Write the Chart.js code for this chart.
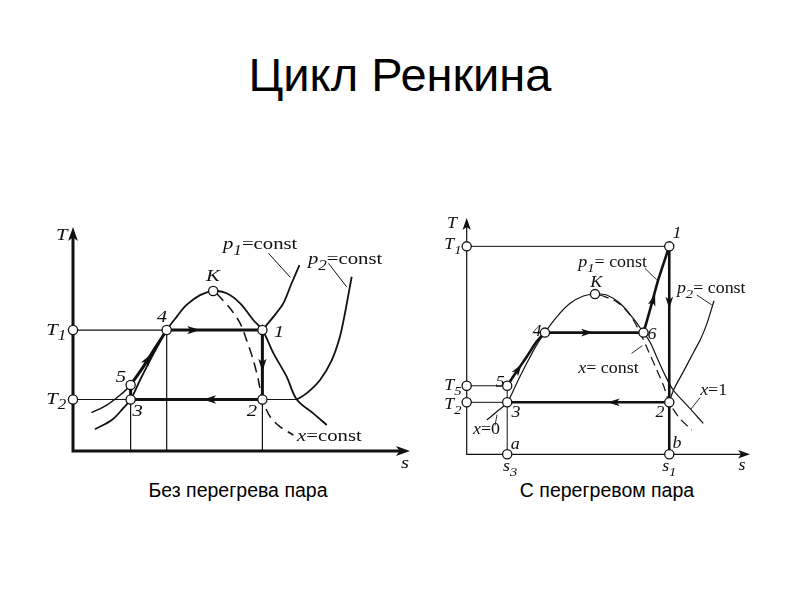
<!DOCTYPE html>
<html>
<head>
<meta charset="utf-8">
<script src="https://cdn.jsdelivr.net/npm/chart.js@4.4.0/dist/chart.umd.min.js"></script>
<style>
  body { margin: 0; width: 800px; height: 600px; background: #fff; position: relative; overflow: hidden;
         font-family: "Liberation Sans", Arial, sans-serif; color: #000; }
  #title { position: absolute; left: 0; top: 47px; width: 800px; text-align: center; font-size: 47px; }
  .cap { position: absolute; top: 479px; width: 300px; text-align: center; font-size: 19.5px; }
  canvas { position: absolute; }
</style>
</head>
<body>
<div id="title">Цикл Ренкина</div>
<div class="cap" style="left:88px">Без перегрева пара</div>
<div class="cap" style="left:457px">С перегревом пара</div>
<canvas id="left" width="400" height="280" style="left:30px;top:200px"></canvas>
<canvas id="right" width="360" height="290" style="left:430px;top:200px"></canvas>
<script>
// ---- left diagram: cycle without superheat (s, T in arbitrary units 0..10) ----
const L_T1 = 5.4, L_T2 = 2.3;
const L_P1 = [5.62, 5.4], L_P2 = [5.62, 2.3], L_P3 = [1.71, 2.3], L_P4 = [2.78, 5.4], L_P5 = [1.71, 2.95], L_K = [4.16, 7.14];
const L_dome = [[0.65,0.97],[1.15,1.38],[1.49,1.91],[1.71,2.3],[1.99,3.17],[2.29,4.06],[2.53,4.73],[2.78,5.4],[3.08,6.0],
  [3.37,6.52],[3.77,6.96],[4.16,7.14],[4.56,7.04],[4.96,6.59],[5.35,5.85],[5.62,5.4],[5.95,4.36],[6.34,3.32],[6.64,2.3],[7.13,1.68],[7.53,1.16]];
const L_p1Liq = [[0.55,1.71],[1.0,2.05],[1.40,2.5],[1.71,2.95],[2.09,3.77],[2.43,4.58],[2.78,5.4]];
const L_p1Vap = [[5.62,5.4],[5.95,6.0],[6.24,6.59],[6.49,7.5],[6.72,8.3]];
const L_p2 = [[6.64,2.3],[6.93,2.57],[7.33,3.17],[7.68,4.06],[7.92,5.10],[8.07,6.15],[8.27,7.78]];
const L_xConst = [[4.26,7.04],[4.66,6.37],[4.96,5.70],[5.15,4.96],[5.35,4.06],[5.50,3.17],[5.62,2.3],[5.85,1.53],[6.14,1.09],[6.54,0.71]];
const L_leaders = [[[5.80,8.83],[6.45,7.75]], [[7.58,8.38],[8.12,7.33]]];

// ---- right diagram: cycle with superheat ----
const R_T1 = 8.8, R_T5 = 2.9, R_T2 = 2.2;
const R_P1 = [7.15, 8.8], R_P2 = [7.15, 2.2], R_P3 = [1.43, 2.2], R_P4 = [2.76, 5.15], R_P5 = [1.43, 2.9], R_P6 = [6.24, 5.15];
const R_K = [4.53, 6.78], R_A = [1.43, 0], R_B = [7.15, 0];
const R_dome = [[0.71,1.45],[1.06,1.8],[1.43,2.2],[1.76,3.0],[2.12,3.85],[2.47,4.63],[2.76,5.15],[3.18,5.82],[3.65,6.39],[4.12,6.70],
  [4.53,6.78],[4.94,6.74],[5.41,6.39],[5.88,5.75],[6.24,5.15],[6.47,4.75],[6.75,4.0],[7.0,3.35],[7.29,2.72],[7.68,2.2],[8.06,1.7],[8.35,1.31]];
const R_p1Liq = [[1.43,2.9],[1.76,3.5],[2.12,4.13],[2.47,4.77],[2.76,5.15]];
const R_p1Vap = [[6.24,5.15],[6.47,6.11],[6.76,7.38],[7.15,8.8]];
const R_p2 = [[7.15,2.2],[7.3,2.72],[7.65,3.5],[8.0,4.3],[8.24,4.84],[8.47,5.5],[8.73,6.5]];
const R_xConst = [[4.71,6.74],[5.29,6.46],[5.76,5.9],[6.1,5.2],[6.4,4.4],[6.7,3.6],[6.95,2.9],[7.15,2.2],[7.5,1.55],[7.94,1.03]];
const R_leaders = [[[6.29,7.87],[6.71,7.38]], [[8.12,6.74],[8.65,6.32]], [[5.82,4.27],[6.2,4.6]],
  [[8.24,2.4],[7.92,1.92]], [[1.0,1.22],[1.07,1.68]]];

// labels: [s, T, main (italic), subscript, tail, align]
const L_labels = [
  [-0.33, 9.6, 'T', '', '', 'center'], [9.85, -0.55, 's', '', '', 'center'],
  [-0.2, L_T1, 'T', '1', '', 'right'], [-0.2, L_T2, 'T', '2', '', 'right'],
  [2.64, 5.95, '4', '', '', 'center'], [6.11, 5.31, '1', '', '', 'center'], [1.42, 3.3, '5', '', '', 'center'],
  [1.92, 1.74, '3', '', '', 'center'], [5.31, 1.74, '2', '', '', 'center'], [4.15, 7.78, 'K', '', '', 'center'],
  [4.45, 9.2, 'p', '1', '=const', 'left'], [6.97, 8.53, 'p', '2', '=const', 'left'], [6.65, 0.63, 'x', '', '=const', 'left']
];
const R_labels = [
  [-0.52, 9.75, 'T', '', '', 'center'], [9.72, -0.5, 's', '', '', 'center'],
  [-0.18, 8.85, 'T', '1', '', 'right'], [-0.18, R_T5, 'T', '5', '', 'right'], [-0.18, 2.1, 'T', '2', '', 'right'],
  [1.53, -0.55, 's', '3', '', 'center'], [7.15, -0.55, 's', '1', '', 'center'],
  [1.71, 0.42, 'a', '', '', 'center'], [7.42, 0.44, 'b', '', '', 'center'],
  [7.42, 9.33, '1', '', '', 'center'], [6.82, 1.75, '2', '', '', 'center'], [1.74, 1.75, '3', '', '', 'center'],
  [2.48, 5.18, '4', '', '', 'center'], [1.18, 3.02, '5', '', '', 'center'], [6.54, 5.05, '6', '', '', 'center'],
  [4.57, 7.25, 'K', '', '', 'center'],
  [3.94, 8.1, 'p', '1', '= const', 'left'], [7.42, 6.99, 'p', '2', '= const', 'left'],
  [3.94, 3.62, 'x', '', '= const', 'left'], [8.24, 2.7, 'x', '', '=1', 'left'], [0.22, 1.03, 'x', '', '=0', 'left']
];

// arrows on the cycle: [from, to, fraction of the way where the tip sits]
const L_arrows = [[L_P4, L_P1, 0.35], [L_P2, L_P3, 0.45], [L_P1, L_P2, 0.6], [L_p1Liq[4], L_p1Liq[5], 0.7]];
const R_arrows = [[R_P4, R_P6, 0.49], [R_P6, R_P1, 0.45], [R_P1, R_P2, 0.4], [R_P2, R_P3, 0.38], [R_p1Liq[1], R_p1Liq[2], 0.5]];

const toXY = arr => arr.map(p => ({ x: p[0], y: p[1] }));

function line(pts, w, opts = {}) {
  return Object.assign({
    data: toXY(pts), showLine: true, borderColor: '#111', borderWidth: w, pointRadius: 0,
    tension: 0, fill: false, clip: false
  }, opts);
}

function arrowHead(ctx, x, y, ang, len, half) {
  ctx.save();
  ctx.translate(x, y);
  ctx.rotate(ang);
  ctx.beginPath();
  ctx.moveTo(0, 0);
  ctx.lineTo(-len, -half);
  ctx.lineTo(-len * 0.75, 0);
  ctx.lineTo(-len, half);
  ctx.closePath();
  ctx.fill();
  ctx.restore();
}

function drawLabel(ctx, x, y, lb, size, sx) {
  const [, , main, sub, tail, align] = lb;
  const fI = `italic ${size}px "Liberation Serif", serif`;
  const fS = `italic ${Math.round(size * 0.8)}px "Liberation Serif", serif`;
  const fN = `${size}px "Liberation Serif", serif`;
  ctx.save();
  ctx.translate(x, y);
  ctx.scale(sx, 1);
  ctx.textBaseline = 'middle';
  ctx.textAlign = 'left';
  ctx.font = fI; const w1 = ctx.measureText(main).width;
  ctx.font = fS; const w2 = sub ? ctx.measureText(sub).width : 0;
  ctx.font = fN; const w3 = tail ? ctx.measureText(tail).width : 0;
  const W = w1 + w2 + w3;
  const x0 = align === 'right' ? -W : align === 'left' ? 0 : -W / 2;
  ctx.font = fI; ctx.fillText(main, x0, 0);
  if (sub) { ctx.font = fS; ctx.fillText(sub, x0 + w1, size * 0.35); }
  if (tail) { ctx.font = fN; ctx.fillText(tail, x0 + w1 + w2, 0); }
  ctx.restore();
}

const deco = {
  id: 'deco',
  beforeDatasetsDraw(chart, args, o) {
    const { ctx, scales: { x, y } } = chart;
    const x0 = x.getPixelForValue(0), y0 = y.getPixelForValue(0);
    const xe = x.getPixelForValue(10), ye = y.getPixelForValue(10);
    ctx.save();
    ctx.strokeStyle = '#111'; ctx.fillStyle = '#111'; ctx.lineWidth = o.axisW;
    ctx.beginPath();
    ctx.moveTo(x0, y0); ctx.lineTo(xe - 8, y0);
    ctx.moveTo(x0, y0 + o.axisW / 2); ctx.lineTo(x0, ye + 8);
    ctx.stroke();
    arrowHead(ctx, xe, y0, 0, o.axHead, o.axHead * 0.35);
    arrowHead(ctx, x0, ye, -Math.PI / 2, o.axHead, o.axHead * 0.35);
    ctx.restore();
  },
  afterDatasetsDraw(chart, args, o) {
    const { ctx, scales: { x, y } } = chart;
    ctx.save();
    ctx.fillStyle = '#111';
    o.arrows.forEach(([a, b, f]) => {
      const ax = x.getPixelForValue(a[0]), ay = y.getPixelForValue(a[1]);
      const bx = x.getPixelForValue(b[0]), by = y.getPixelForValue(b[1]);
      arrowHead(ctx, ax + (bx - ax) * f, ay + (by - ay) * f, Math.atan2(by - ay, bx - ax), o.head, o.head * 0.32);
    });
    o.labels.forEach(lb => {
      drawLabel(ctx, x.getPixelForValue(lb[0]), y.getPixelForValue(lb[1]), lb, o.font, o.sx);
    });
    ctx.restore();
  }
};

function build(id, ds, padding, opts) {
  new Chart(document.getElementById(id), {
    type: 'scatter',
    data: { datasets: ds },
    options: {
      responsive: false, animation: false, devicePixelRatio: 1,
      layout: { padding },
      scales: {
        x: { type: 'linear', min: 0, max: 10, display: false },
        y: { type: 'linear', min: 0, max: 10, display: false }
      },
      plugins: { legend: { display: false }, tooltip: { enabled: false }, deco: opts }
    },
    plugins: [deco]
  });
}

const circ = pts => ({
  data: toXY(pts), showLine: false, pointRadius: 4.6, pointBackgroundColor: '#fff',
  pointBorderColor: '#111', pointBorderWidth: 1.3, clip: false, order: -1
});

// left chart
const thickL = 3, thinL = 1.2;
build('left', [
  circ([[0, L_T1], [0, L_T2], L_P4, L_P1, L_P2, L_P3, L_P5, L_K]),
  line(L_dome, 1.8, { tension: 0.35 }),
  line(L_p1Liq, 1.5, { tension: 0.3 }),
  line(L_p1Liq.slice(3), thickL, { tension: 0.3 }),
  line(L_p1Vap, 1.8, { tension: 0.3 }),
  line(L_p2, 1.8, { tension: 0.3 }),
  line(L_xConst, 1.5, { tension: 0.3, borderDash: [10, 6] }),
  line([[0, L_T1], L_P4], thinL),
  line([[0, L_T2], [L_p2[0][0], L_T2]], thinL),
  line([[L_P3[0], 0], L_P3], thinL),
  line([[L_P4[0], 0], L_P4], thinL),
  line([[L_P2[0], 0], L_P2], thinL),
  line([L_P3, L_P5], thickL),
  line([L_P4, L_P1], thickL),
  line([L_P1, L_P2], thickL),
  line([L_P2, L_P3], thickL),
  ...L_leaders.map(l => line(l, 1))
], { left: 43, right: 20, top: 27, bottom: 29 },
  { axisW: 3, axHead: 14, head: 13, arrows: L_arrows, labels: L_labels, font: 17, sx: 1.22 });

// right chart
const thickR = 2.6, thinR = 1;
build('right', [
  circ([[0, R_T1], [0, R_T5], [0, R_T2], R_P1, R_P4, R_P6, R_K, R_P5, R_P3, R_P2, R_A, R_B]),
  line(R_dome, 1.2, { tension: 0.35 }),
  line(R_p1Liq, thickR, { tension: 0.3 }),
  line(R_p1Vap, thickR, { tension: 0.2 }),
  line(R_p2, 1.2, { tension: 0.3 }),
  line(R_xConst, 1.2, { tension: 0.3, borderDash: [9, 5] }),
  line([[0, R_T1], R_P1], thinR),
  line([[0, R_T5], R_P5], thinR),
  line([[0, R_T2], R_P3], thinR),
  line([R_A, R_P5], thinR),
  line([R_P4, R_P6], thickR),
  line([R_P1, R_B], thickR),
  line([R_P2, R_P3], thickR),
  ...R_leaders.map(l => line(l, 0.9))
], { left: 36.7, right: 40, top: 18, bottom: 35.7 },
  { axisW: 1.2, axHead: 12, head: 12, arrows: R_arrows, labels: R_labels, font: 16, sx: 1.12 });
</script>
</body>
</html>
